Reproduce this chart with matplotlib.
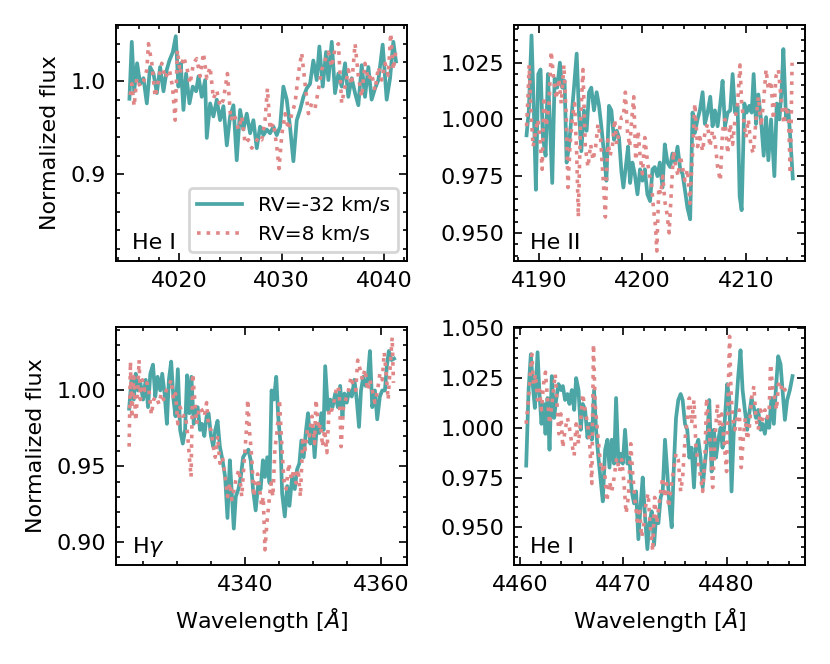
#  Four He/H line profiles at two radial velocities
import numpy as np
import matplotlib.pyplot as plt
from matplotlib.ticker import MultipleLocator, AutoMinorLocator

#  He I 4026 region
wl_hei4026_a = [4015.11, 4015.34, 4015.57, 4015.86, 4016.16, 4016.48, 4016.81, 4017.13, 4017.46, 4017.79,
                4018.11, 4018.44, 4018.76, 4019.02, 4019.35, 4019.64, 4019.90, 4020.13, 4020.39, 4020.65,
                4020.98, 4021.30, 4021.63, 4021.86, 4022.18, 4022.51, 4022.67, 4023.00, 4023.32, 4023.65,
                4023.97, 4024.30, 4024.63, 4024.95, 4025.28, 4025.60, 4025.93, 4026.25, 4026.58, 4026.91,
                4027.23, 4027.56, 4027.88, 4028.21, 4028.53, 4028.86, 4029.19, 4029.51, 4029.84, 4030.16,
                4030.49, 4030.81, 4031.14, 4031.47, 4031.79, 4032.12, 4032.44, 4032.77, 4033.09, 4033.42,
                4033.68, 4034.01, 4034.33, 4034.56, 4034.89, 4035.21, 4035.54, 4035.86, 4036.19, 4036.51,
                4036.84, 4037.17, 4037.49, 4037.82, 4038.14, 4038.47, 4038.79, 4039.12, 4039.45, 4039.87,
                4040.26, 4040.59, 4040.91, 4041.17]
flux_hei4026_a = [0.981, 1.042, 0.989, 1.019, 0.997, 1.003, 0.976, 1.015, 1.008, 0.987,
                  1.015, 0.989, 1.012, 1.022, 1.031, 1.048, 0.994, 1.019, 0.969, 1.008,
                  0.976, 0.994, 0.989, 1.005, 0.983, 1.001, 0.939, 0.976, 0.962, 0.980,
                  0.958, 0.973, 0.931, 0.962, 0.974, 0.915, 0.969, 0.948, 0.965, 0.944,
                  0.958, 0.928, 0.951, 0.942, 0.948, 0.944, 0.951, 0.942, 0.951, 0.994,
                  0.980, 0.951, 0.914, 0.958, 0.969, 0.983, 0.992, 0.997, 1.022, 1.001,
                  1.037, 0.994, 1.031, 1.001, 1.042, 0.987, 1.008, 0.994, 1.019, 0.983,
                  1.003, 0.987, 0.974, 1.017, 0.983, 1.015, 0.980, 0.992, 1.001, 1.039,
                  0.980, 1.003, 1.042, 1.021]
wl_hei4026_b = [4015.18, 4015.34, 4015.57, 4015.83, 4016.16, 4016.48, 4016.81, 4016.97, 4017.30, 4017.62,
                4017.95, 4018.27, 4018.60, 4019.02, 4019.32, 4019.58, 4019.80, 4020.07, 4020.39, 4020.72,
                4021.04, 4021.37, 4021.69, 4022.02, 4022.35, 4022.67, 4023.00, 4023.32, 4023.65, 4023.97,
                4024.30, 4024.69, 4025.02, 4025.34, 4025.77, 4026.09, 4026.42, 4026.74, 4027.07, 4027.39,
                4027.72, 4028.05, 4028.37, 4028.60, 4028.86, 4029.19, 4029.51, 4029.74, 4030.00, 4030.33,
                4030.65, 4030.98, 4031.30, 4031.63, 4031.95, 4032.28, 4032.61, 4032.93, 4033.26, 4033.58,
                4033.91, 4034.23, 4034.56, 4034.89, 4035.21, 4035.54, 4035.86, 4036.19, 4036.51, 4036.84,
                4037.17, 4037.49, 4037.82, 4038.14, 4038.47, 4038.79, 4039.12, 4039.45, 4039.77, 4040.10,
                4040.42, 4040.65, 4040.91, 4041.17]
flux_hei4026_b = [0.985, 0.997, 0.973, 1.003, 0.994, 0.999, 1.012, 1.040, 1.019, 0.983,
                  1.001, 1.019, 1.003, 1.012, 0.994, 0.958, 1.033, 1.008, 1.026, 1.015,
                  0.997, 1.019, 1.024, 1.005, 1.030, 1.003, 1.015, 0.981, 0.990, 0.973,
                  0.980, 1.008, 0.958, 0.965, 0.948, 0.962, 0.933, 0.937, 0.928, 0.933,
                  0.940, 0.937, 0.958, 0.992, 0.948, 0.955, 0.930, 0.906, 0.942, 0.965,
                  0.948, 0.965, 0.976, 1.008, 1.030, 0.997, 0.965, 0.976, 0.971, 0.990,
                  1.012, 1.022, 1.031, 1.015, 1.035, 1.040, 0.976, 0.994, 1.012, 0.996,
                  1.040, 1.005, 0.983, 1.019, 1.001, 1.008, 0.990, 1.015, 1.001, 1.019,
                  1.006, 1.051, 1.012, 1.033]

#  He II 4200 region
wl_heii4200_a = [4188.81, 4189.03, 4189.29, 4189.52, 4189.71, 4189.94, 4190.16, 4190.39, 4190.65, 4190.87,
                 4191.06, 4191.29, 4191.52, 4191.77, 4192.03, 4192.26, 4192.48, 4192.68, 4192.90, 4193.13,
                 4193.39, 4193.65, 4193.87, 4194.10, 4194.35, 4194.61, 4194.84, 4195.06, 4195.32, 4195.58,
                 4195.81, 4196.03, 4196.29, 4196.52, 4196.77, 4197.00, 4197.26, 4197.52, 4197.74, 4197.97,
                 4198.16, 4198.39, 4198.61, 4198.81, 4199.03, 4199.26, 4199.52, 4199.77, 4200.00, 4200.23,
                 4200.48, 4200.74, 4200.97, 4201.19, 4201.45, 4201.68, 4201.94, 4202.16, 4202.42, 4202.68,
                 4202.90, 4203.13, 4203.39, 4203.65, 4203.87, 4204.10, 4204.35, 4204.61, 4204.84, 4205.06,
                 4205.32, 4205.55, 4205.81, 4206.03, 4206.29, 4206.55, 4206.77, 4207.00, 4207.26, 4207.52,
                 4207.74, 4207.97, 4208.23, 4208.48, 4208.71, 4208.94, 4209.19, 4209.39, 4209.58, 4209.84,
                 4210.06, 4210.32, 4210.55, 4210.74, 4210.97, 4211.19, 4211.45, 4211.71, 4211.94, 4212.16,
                 4212.42, 4212.74, 4212.97, 4213.23, 4213.45, 4213.61, 4213.87, 4214.10, 4214.29, 4214.52]
flux_heii4200_a = [0.993, 1.004, 1.037, 1.003, 0.969, 1.020, 1.022, 0.992, 0.984, 1.020,
                   1.000, 0.972, 1.018, 1.014, 1.025, 1.014, 1.017, 0.981, 0.988, 1.000,
                   1.014, 1.029, 1.003, 0.986, 1.004, 0.995, 1.012, 1.014, 1.004, 1.012,
                   1.006, 0.997, 0.985, 0.973, 1.006, 1.004, 0.991, 0.995, 0.992, 0.977,
                   0.970, 0.979, 0.988, 0.972, 0.981, 0.976, 0.967, 0.978, 0.973, 0.978,
                   0.967, 0.964, 0.978, 0.979, 0.975, 0.981, 0.970, 0.989, 0.981, 0.979,
                   0.985, 0.981, 0.988, 0.978, 0.976, 0.969, 0.961, 0.956, 1.003, 0.994,
                   1.000, 1.004, 1.012, 0.998, 1.003, 1.010, 0.997, 1.004, 0.997, 1.007,
                   1.017, 0.997, 1.003, 1.004, 1.020, 1.003, 1.006, 0.966, 0.960, 1.007,
                   1.003, 1.006, 1.003, 1.020, 0.998, 1.011, 1.000, 0.984, 1.001, 0.982,
                   1.000, 0.975, 1.007, 1.000, 1.014, 1.031, 1.000, 1.004, 0.991, 0.974]
wl_heii4200_b = [4188.81, 4188.94, 4189.06, 4189.26, 4189.45, 4189.68, 4189.90, 4190.10, 4190.32, 4190.48,
                 4190.71, 4190.97, 4191.19, 4191.45, 4191.68, 4191.94, 4192.16, 4192.42, 4192.65, 4192.81,
                 4193.00, 4193.23, 4193.45, 4193.65, 4193.81, 4194.03, 4194.26, 4194.48, 4194.74, 4195.00,
                 4195.23, 4195.48, 4195.71, 4195.97, 4196.19, 4196.42, 4196.65, 4196.87, 4197.10, 4197.32,
                 4197.52, 4197.74, 4197.97, 4198.16, 4198.35, 4198.55, 4198.77, 4198.97, 4199.16, 4199.35,
                 4199.58, 4199.77, 4200.00, 4200.23, 4200.42, 4200.65, 4200.87, 4201.06, 4201.26, 4201.39,
                 4201.58, 4201.77, 4201.97, 4202.16, 4202.35, 4202.58, 4202.81, 4203.00, 4203.23, 4203.45,
                 4203.65, 4203.87, 4204.10, 4204.35, 4204.58, 4204.84, 4205.06, 4205.32, 4205.55, 4205.81,
                 4206.03, 4206.29, 4206.52, 4206.77, 4207.00, 4207.26, 4207.52, 4207.74, 4207.97, 4208.23,
                 4208.48, 4208.71, 4208.94, 4209.19, 4209.42, 4209.58, 4209.77, 4210.00, 4210.23, 4210.48,
                 4210.71, 4210.97, 4211.19, 4211.45, 4211.68, 4211.94, 4212.16, 4212.42, 4212.65, 4212.90,
                 4213.13, 4213.39, 4213.65, 4213.87, 4214.10, 4214.29, 4214.45]
flux_heii4200_b = [0.997, 1.009, 1.024, 1.001, 0.988, 0.995, 1.000, 0.992, 0.978, 1.010,
                   0.997, 1.006, 1.030, 1.017, 1.009, 1.018, 1.007, 1.024, 1.000, 0.970,
                   0.988, 1.001, 1.007, 0.985, 0.957, 1.000, 1.022, 0.988, 0.979, 0.989,
                   0.982, 0.988, 0.998, 0.991, 0.975, 0.957, 0.991, 0.984, 0.988, 1.000,
                   0.989, 0.994, 1.001, 1.001, 1.012, 0.995, 0.988, 1.000, 1.010, 0.982,
                   0.995, 0.984, 0.976, 0.992, 0.984, 0.976, 0.972, 0.961, 0.953, 0.942,
                   0.970, 0.967, 0.975, 0.964, 0.959, 0.950, 0.970, 0.986, 0.979, 0.975,
                   0.984, 0.979, 0.973, 0.978, 0.963, 0.985, 1.007, 0.988, 0.992, 0.986,
                   0.994, 0.998, 0.988, 0.995, 0.991, 0.979, 0.973, 0.995, 1.000, 0.985,
                   0.998, 0.989, 1.000, 1.007, 1.024, 1.007, 1.000, 0.992, 1.000, 0.988,
                   0.985, 1.000, 1.010, 0.997, 1.007, 1.022, 1.013, 1.017, 1.000, 1.019,
                   1.022, 1.009, 0.998, 1.006, 1.000, 0.976, 1.025]

#  H gamma region
wl_hgamma_a = [4322.93, 4323.27, 4323.61, 4323.90, 4324.24, 4324.59, 4324.98, 4325.37, 4325.71, 4326.05,
               4326.44, 4326.78, 4327.12, 4327.51, 4327.80, 4328.15, 4328.49, 4328.78, 4329.12, 4329.46,
               4329.76, 4330.10, 4330.44, 4330.83, 4331.17, 4331.46, 4331.80, 4332.10, 4332.44, 4332.68,
               4333.02, 4333.37, 4333.66, 4334.00, 4334.34, 4334.63, 4334.98, 4335.32, 4335.61, 4335.95,
               4336.29, 4336.68, 4337.07, 4337.41, 4337.76, 4338.05, 4338.34, 4338.63, 4339.02, 4339.37,
               4339.71, 4340.10, 4340.49, 4340.83, 4341.17, 4341.56, 4341.95, 4342.29, 4342.63, 4342.93,
               4343.27, 4343.61, 4343.90, 4344.24, 4344.59, 4344.88, 4345.22, 4345.46, 4345.85, 4346.20,
               4346.54, 4346.93, 4347.32, 4347.66, 4348.00, 4348.29, 4348.63, 4348.98, 4349.27, 4349.61,
               4349.95, 4350.24, 4350.59, 4350.93, 4351.22, 4351.56, 4351.80, 4352.20, 4352.54, 4352.88,
               4353.27, 4353.66, 4354.00, 4354.34, 4354.63, 4354.98, 4355.32, 4355.71, 4356.10, 4356.44,
               4356.78, 4357.07, 4357.41, 4357.76, 4358.05, 4358.39, 4358.73, 4359.12, 4359.46, 4359.85,
               4360.20, 4360.59, 4360.88, 4361.17, 4361.56, 4361.95]
flux_hgamma_a = [0.988, 1.007, 0.994, 1.011, 1.000, 1.005, 0.994, 1.007, 0.989, 1.011,
                 1.017, 0.996, 1.009, 1.000, 1.011, 0.998, 0.978, 1.007, 1.019, 0.994,
                 0.983, 1.014, 0.974, 0.965, 0.974, 1.010, 0.985, 1.009, 0.978, 0.987,
                 0.989, 0.974, 0.978, 0.970, 0.983, 0.985, 0.970, 0.963, 0.974, 0.980,
                 0.963, 0.954, 0.943, 0.916, 0.954, 0.932, 0.909, 0.930, 0.935, 0.943,
                 0.956, 0.959, 0.961, 0.954, 0.935, 0.921, 0.939, 0.935, 0.954, 0.943,
                 0.956, 0.939, 1.000, 0.994, 1.009, 0.983, 0.965, 0.932, 0.917, 0.937,
                 0.924, 0.943, 0.935, 0.948, 0.952, 0.967, 0.956, 0.974, 0.985, 0.965,
                 0.976, 0.956, 0.978, 0.972, 0.985, 0.974, 1.016, 0.987, 0.994, 0.989,
                 0.998, 0.989, 1.003, 0.983, 0.998, 0.992, 1.000, 0.996, 1.007, 0.994,
                 0.976, 1.000, 1.009, 1.003, 1.007, 1.026, 0.989, 1.000, 0.981, 0.996,
                 1.000, 1.000, 1.016, 1.026, 1.020, 1.021]
wl_hgamma_b = [4322.93, 4323.12, 4323.32, 4323.61, 4323.90, 4324.20, 4324.39, 4324.59, 4324.88, 4325.22,
               4325.56, 4325.85, 4326.20, 4326.54, 4326.93, 4327.32, 4327.66, 4328.00, 4328.39, 4328.78,
               4329.12, 4329.46, 4329.76, 4330.10, 4330.44, 4330.83, 4331.22, 4331.56, 4331.80, 4332.05,
               4332.29, 4332.59, 4332.88, 4333.27, 4333.66, 4334.00, 4334.34, 4334.63, 4334.98, 4335.32,
               4335.61, 4335.95, 4336.29, 4336.68, 4337.07, 4337.41, 4337.76, 4338.05, 4338.39, 4338.73,
               4339.12, 4339.51, 4339.85, 4340.20, 4340.39, 4340.68, 4340.98, 4341.27, 4341.56, 4341.85,
               4342.15, 4342.44, 4342.68, 4342.93, 4343.22, 4343.51, 4343.80, 4344.10, 4344.39, 4344.73,
               4345.07, 4345.37, 4345.71, 4346.05, 4346.44, 4346.83, 4347.17, 4347.51, 4347.80, 4348.15,
               4348.49, 4348.88, 4349.17, 4349.46, 4349.85, 4350.24, 4350.44, 4350.83, 4351.12, 4351.41,
               4351.71, 4352.05, 4352.39, 4352.78, 4353.17, 4353.51, 4353.85, 4354.15, 4354.49, 4354.83,
               4355.22, 4355.61, 4355.95, 4356.29, 4356.59, 4356.93, 4357.27, 4357.66, 4358.05, 4358.39,
               4358.73, 4359.12, 4359.51, 4359.85, 4360.20, 4360.49, 4360.78, 4361.07, 4361.37, 4361.66,
               4361.85]
flux_hgamma_b = [0.963, 1.019, 0.982, 1.009, 0.980, 1.000, 1.020, 0.994, 1.007, 1.000,
                 1.005, 1.000, 0.984, 0.994, 0.996, 0.991, 0.998, 0.994, 1.000, 1.003,
                 1.007, 0.994, 0.998, 0.978, 0.989, 0.983, 0.984, 0.970, 0.956, 0.943,
                 1.011, 0.994, 0.978, 0.989, 0.987, 0.983, 0.992, 0.976, 0.974, 0.963,
                 0.956, 0.970, 0.952, 0.956, 0.943, 0.930, 0.939, 0.928, 0.935, 0.943,
                 0.948, 0.930, 0.952, 0.974, 0.994, 0.972, 0.956, 0.930, 0.939, 0.945,
                 0.935, 0.924, 0.930, 0.895, 0.913, 0.926, 0.939, 0.930, 0.961, 0.974,
                 0.994, 0.967, 0.941, 0.935, 0.952, 0.941, 0.948, 0.939, 0.948, 0.930,
                 0.967, 0.961, 0.974, 0.970, 0.983, 0.965, 0.994, 0.974, 0.978, 0.963,
                 0.974, 0.959, 0.989, 0.987, 0.994, 1.003, 1.000, 0.963, 0.989, 0.994,
                 1.000, 1.009, 1.003, 1.000, 1.020, 1.014, 1.007, 1.014, 1.000, 1.007,
                 1.000, 0.992, 1.000, 1.011, 1.007, 1.025, 1.011, 0.994, 1.016, 1.035,
                 1.005]

#  He I 4471 region
wl_hei4471_a = [4460.58, 4460.81, 4461.03, 4461.23, 4461.42, 4461.68, 4461.87, 4462.06, 4462.26, 4462.45,
                4462.65, 4462.84, 4463.06, 4463.29, 4463.48, 4463.71, 4463.94, 4464.13, 4464.35, 4464.58,
                4464.77, 4465.00, 4465.23, 4465.42, 4465.65, 4465.87, 4466.06, 4466.29, 4466.52, 4466.71,
                4466.94, 4467.16, 4467.35, 4467.58, 4467.81, 4468.00, 4468.23, 4468.45, 4468.65, 4468.87,
                4469.10, 4469.29, 4469.52, 4469.74, 4469.94, 4470.16, 4470.39, 4470.58, 4470.81, 4471.03,
                4471.23, 4471.45, 4471.68, 4471.87, 4472.10, 4472.32, 4472.52, 4472.74, 4472.97, 4473.16,
                4473.39, 4473.61, 4473.81, 4474.03, 4474.26, 4474.45, 4474.68, 4474.90, 4475.10, 4475.32,
                4475.55, 4475.74, 4475.97, 4476.19, 4476.39, 4476.61, 4476.84, 4477.03, 4477.26, 4477.48,
                4477.68, 4477.90, 4478.13, 4478.32, 4478.55, 4478.77, 4478.97, 4479.19, 4479.42, 4479.61,
                4479.84, 4480.06, 4480.26, 4480.48, 4480.71, 4480.90, 4481.13, 4481.35, 4481.55, 4481.77,
                4482.00, 4482.19, 4482.42, 4482.65, 4482.84, 4483.06, 4483.29, 4483.48, 4483.71, 4483.94,
                4484.13, 4484.35, 4484.58, 4484.77, 4485.00, 4485.23, 4485.42, 4485.65, 4485.87, 4486.13,
                4486.39]
flux_hei4471_a = [0.981, 1.019, 1.037, 1.021, 1.010, 1.038, 1.017, 1.002, 1.012, 0.997,
                  1.015, 0.989, 1.026, 1.005, 1.014, 1.022, 1.019, 1.021, 1.014, 1.017,
                  1.012, 1.019, 1.009, 1.025, 1.019, 0.999, 1.012, 1.009, 0.995, 1.002,
                  0.994, 1.019, 0.999, 0.985, 0.973, 0.963, 0.989, 0.994, 0.980, 0.994,
                  0.982, 1.015, 0.982, 0.987, 0.982, 0.999, 0.982, 0.985, 0.968, 0.962,
                  0.968, 0.944, 0.962, 0.975, 0.955, 0.939, 0.952, 0.958, 0.941, 0.955,
                  0.952, 0.965, 0.968, 0.994, 0.977, 0.962, 0.950, 0.982, 1.005, 1.014,
                  1.017, 1.014, 1.002, 0.999, 0.985, 0.990, 0.970, 0.990, 0.994, 0.985,
                  0.970, 0.982, 0.994, 1.014, 0.978, 0.999, 0.985, 0.994, 1.000, 0.990,
                  1.005, 1.022, 1.015, 0.968, 1.000, 1.009, 1.026, 1.039, 1.019, 1.009,
                  0.999, 1.007, 1.015, 1.010, 1.005, 1.009, 0.999, 1.002, 0.997, 1.005,
                  1.000, 1.015, 1.002, 1.019, 1.036, 1.032, 1.019, 1.004, 1.014, 1.019,
                  1.026]
wl_hei4471_b = [4460.58, 4460.81, 4460.97, 4461.13, 4461.29, 4461.48, 4461.68, 4461.87, 4462.06, 4462.26,
                4462.45, 4462.65, 4462.84, 4463.03, 4463.23, 4463.39, 4463.55, 4463.74, 4463.94, 4464.13,
                4464.35, 4464.58, 4464.77, 4465.00, 4465.23, 4465.42, 4465.65, 4465.87, 4466.06, 4466.29,
                4466.52, 4466.71, 4466.94, 4467.10, 4467.26, 4467.48, 4467.68, 4467.90, 4468.13, 4468.39,
                4468.65, 4468.87, 4469.10, 4469.35, 4469.61, 4469.84, 4470.06, 4470.26, 4470.48, 4470.71,
                4470.90, 4471.13, 4471.35, 4471.55, 4471.77, 4472.00, 4472.19, 4472.39, 4472.58, 4472.84,
                4473.03, 4473.23, 4473.42, 4473.61, 4473.81, 4474.00, 4474.19, 4474.39, 4474.58, 4474.84,
                4475.10, 4475.32, 4475.55, 4475.74, 4475.97, 4476.19, 4476.39, 4476.61, 4476.84, 4477.03,
                4477.26, 4477.48, 4477.68, 4477.90, 4478.06, 4478.26, 4478.45, 4478.65, 4478.87, 4479.10,
                4479.29, 4479.52, 4479.74, 4480.00, 4480.16, 4480.29, 4480.42, 4480.58, 4480.81, 4481.03,
                4481.23, 4481.42, 4481.61, 4481.81, 4482.00, 4482.19, 4482.42, 4482.65, 4482.84, 4483.06,
                4483.29, 4483.48, 4483.71, 4483.94, 4484.13, 4484.26, 4484.45, 4484.68, 4484.84, 4485.03,
                4485.23, 4485.42, 4485.65, 4485.87]
flux_hei4471_b = [1.002, 1.015, 1.027, 1.037, 1.022, 1.027, 1.014, 1.019, 1.009, 1.022,
                  1.028, 1.014, 1.002, 1.010, 1.019, 1.027, 1.014, 0.997, 1.007, 0.990,
                  0.999, 1.005, 1.000, 0.992, 0.986, 1.002, 0.992, 1.004, 1.017, 1.009,
                  1.002, 0.994, 0.972, 1.042, 1.012, 0.999, 0.987, 0.978, 0.982, 0.963,
                  0.973, 0.968, 0.975, 0.985, 0.978, 0.984, 0.972, 0.957, 0.965, 0.992,
                  0.977, 0.963, 0.953, 0.960, 0.945, 0.952, 0.962, 0.967, 0.952, 0.938,
                  0.965, 0.952, 0.960, 0.968, 0.975, 0.965, 0.972, 0.960, 0.968, 0.978,
                  0.987, 0.984, 0.968, 0.975, 0.994, 1.005, 1.015, 1.002, 1.014, 0.990,
                  0.982, 0.975, 0.968, 0.985, 1.015, 1.002, 0.990, 0.970, 0.994, 1.012,
                  1.002, 1.007, 0.994, 0.978, 1.019, 1.046, 1.019, 1.005, 0.999, 1.005,
                  1.009, 0.980, 0.994, 1.005, 0.994, 0.999, 1.015, 1.021, 1.005, 0.999,
                  1.009, 1.004, 1.009, 1.005, 1.009, 1.032, 1.021, 1.014, 1.009, 1.022,
                  1.019, 1.022, 1.019, 1.022]

LINE_NAMES = ['He I', 'He II', r'H$\gamma$', 'He I']
RV_LABELS = ['RV=-32 km/s', 'RV=8 km/s']
COLOR_A = '#4da6a6'
COLOR_B = '#e08686'

#  panel settings: data, axis limits, tick steps
panels = [
    (wl_hei4026_a, flux_hei4026_a, wl_hei4026_b, flux_hei4026_b,
     (4013.8, 4042.25), (0.807, 1.060), 10, 0.1),
    (wl_heii4200_a, flux_heii4200_a, wl_heii4200_b, flux_heii4200_b,
     (4187.6, 4215.7), (0.9376, 1.0416), 10, 0.025),
    (wl_hgamma_a, flux_hgamma_a, wl_hgamma_b, flux_hgamma_b,
     (4321.0, 4363.85), (0.885, 1.0418), 20, 0.05),
    (wl_hei4471_a, flux_hei4471_a, wl_hei4471_b, flux_hei4471_b,
     (4459.4, 4487.6), (0.931, 1.0507), 10, 0.025),
]

plt.rcParams['font.size'] = 8
fig = plt.figure(figsize=(4.15, 3.32), dpi=200)

#  axes boxes [left, bottom, width, height] in figure fraction
boxes = [[0.1398, 0.6069, 0.3506, 0.3554],
         [0.6193, 0.6069, 0.3506, 0.3554],
         [0.1398, 0.1491, 0.3506, 0.3584],
         [0.6193, 0.1491, 0.3506, 0.3584]]

for k in range(4):
    wa, fa, wb, fb, xlim, ylim, xstep, ystep = panels[k]
    ax = fig.add_axes(boxes[k])
    ax.plot(wa, fa, color=COLOR_A, lw=1.35, label=RV_LABELS[0])
    ax.plot(wb, fb, color=COLOR_B, lw=1.3, ls=':', label=RV_LABELS[1])
    ax.set_xlim(xlim)
    ax.set_ylim(ylim)
    ax.xaxis.set_major_locator(MultipleLocator(xstep))
    ax.yaxis.set_major_locator(MultipleLocator(ystep))
    ax.xaxis.set_minor_locator(AutoMinorLocator())
    ax.yaxis.set_minor_locator(AutoMinorLocator())
    ax.tick_params(which='both', direction='in', top=True, right=True, width=0.6)
    ax.tick_params(which='major', length=3)
    ax.tick_params(which='minor', length=1.5)
    for sp in ax.spines.values():
        sp.set_linewidth(0.7)
    ax.text(0.055, 0.05, LINE_NAMES[k], transform=ax.transAxes, fontsize=8)
    if k % 2 == 0:
        ax.set_ylabel('Normalized flux')
    if k >= 2:
        ax.set_xlabel(r'Wavelength [$\AA$]')
    if k == 0:
        ax.legend(loc='lower right', fontsize=7.3, handlelength=2.2,
                  edgecolor='#cccccc', borderaxespad=0.45)

plt.savefig('out.png', dpi=200)
